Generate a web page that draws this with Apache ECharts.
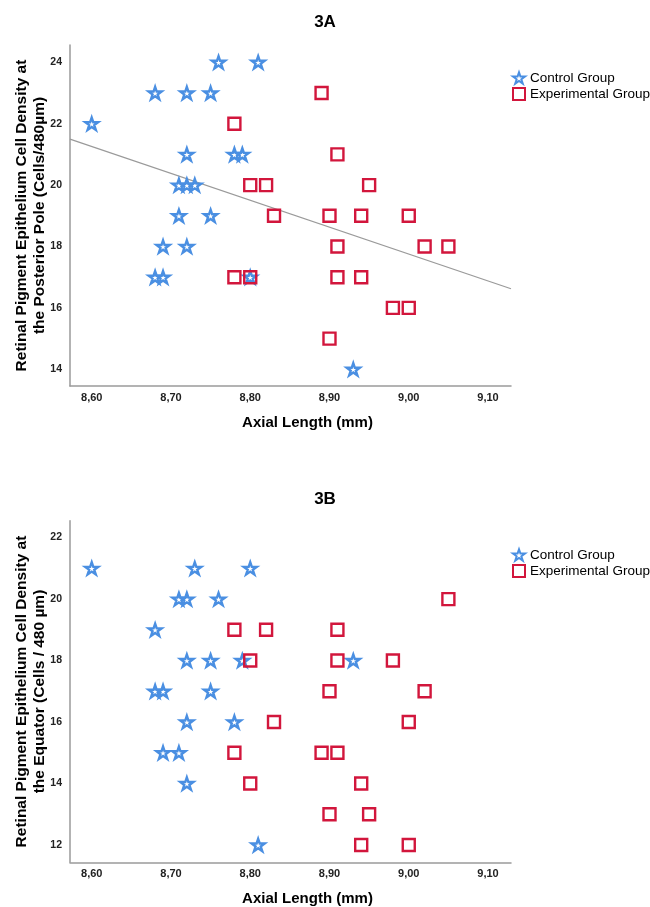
<!DOCTYPE html>
<html><head><meta charset="utf-8">
<script src="https://cdn.jsdelivr.net/npm/echarts@6/dist/echarts.min.js"></script>
<style>html,body{margin:0;padding:0;background:#fff}#c{width:650px;height:907px}</style>
</head><body><div id="c"></div>
<script>
// ---- data ----
const xTicks = [8.6, 8.7, 8.8, 8.9, 9.0, 9.1];
const yTicksA = [14, 16, 18, 20, 22, 24];
const yTicksB = [12, 14, 16, 18, 20, 22];
const groupNames = ['Control Group', 'Experimental Group'];

const controlA_x = [8.60,8.68,8.72,8.75,8.76,8.81,8.72,8.78,8.79,8.71,8.72,8.73,8.71,8.75,8.69,8.72,8.68,8.69,8.80,8.93];
const controlA_y = [22,23,23,23,24,24,21,21,21,20,20,20,19,19,18,18,17,17,17,14];
const expA_x = [8.89,8.78,8.91,8.80,8.82,8.95,8.83,8.90,8.94,9.00,8.91,9.02,9.05,8.78,8.80,8.91,8.94,8.98,9.00,8.90];
const expA_y = [23,22,21,20,20,20,19,19,19,19,18,18,18,17,17,17,17,16,16,15];
const fitA_x = [8.5726, 9.129];
const fitA_y = [21.50, 16.625];

const controlB_x = [8.60,8.73,8.80,8.71,8.72,8.76,8.68,8.72,8.75,8.79,8.93,8.68,8.69,8.75,8.72,8.78,8.69,8.71,8.72,8.81];
const controlB_y = [21,21,21,20,20,20,19,18,18,18,18,17,17,17,16,16,15,15,14,12];
const expB_x = [9.05,8.78,8.82,8.91,8.80,8.91,8.98,8.90,9.02,8.83,9.00,8.78,8.89,8.91,8.80,8.94,8.90,8.95,8.94,9.00];
const expB_y = [20,19,19,19,18,18,18,17,17,16,16,15,15,15,14,14,13,13,12,12];

// ---- build ----
const zip = (xs, ys) => xs.map((x, i) => [x, ys[i]]);
const FF = "'Liberation Sans', Arial, sans-serif";
const FFN = "'Liberation Sans Narrow', 'Liberation Sans', Arial, sans-serif";
const STAR = 'path://M50,0 L61.8,35.1 L98.9,35.1 L69.1,57.1 L80.9,92.7 L50,70.9 L19.1,92.7 L30.9,57.1 L1.1,35.1 L38.2,35.1 Z';
const BLUE = '#4A8FE2', RED = '#D2163C';

function xAx(gi) {
  return {
    type: 'value', gridIndex: gi, min: 8.5726, max: 9.129,
    name: 'Axial Length (mm)', nameLocation: 'middle', nameGap: 29,
    nameTextStyle: { fontSize: 15, fontWeight: 'bold', color: '#000', fontFamily: FF, padding: [0, 0, 0, 34] },
    axisLine: { lineStyle: { color: '#9a9a9a', width: 1.5 } },
    axisTick: { show: false }, splitLine: { show: false },
    axisLabel: { customValues: xTicks, formatter: v => v.toFixed(2).replace('.', ','),
      fontSize: 11, fontWeight: 'bold', color: '#222', fontFamily: FFN, margin: 6 }
  };
}
function yAx(gi, min, max, ticks, name) {
  return {
    type: 'value', gridIndex: gi, min: min, max: max,
    name: name, nameLocation: 'middle', nameRotate: 90, nameGap: 21, nameMoveOverlap: false,
    nameTextStyle: { fontSize: 15.5, fontWeight: 'bold', color: '#000', fontFamily: FF, lineHeight: 18 },
    axisLine: { show: true, lineStyle: { color: '#9a9a9a', width: 1.5 } },
    axisTick: { show: false }, splitLine: { show: false },
    axisLabel: { customValues: ticks, fontSize: 10.5, fontWeight: 'bold', color: '#222', fontFamily: FFN, margin: 8 }
  };
}
function starSeries(gi, data) {
  return { type: 'scatter', name: groupNames[0], xAxisIndex: gi, yAxisIndex: gi, data: data,
    symbol: STAR, symbolSize: 13, symbolKeepAspect: true,
    itemStyle: { color: 'rgba(255,255,255,0)', borderColor: BLUE, borderWidth: 2.4, opacity: 1 } };
}
function squareSeries(gi, data) {
  return { type: 'scatter', name: groupNames[1], xAxisIndex: gi, yAxisIndex: gi, data: data,
    symbol: 'rect', symbolSize: 12,
    itemStyle: { color: 'rgba(255,255,255,0)', borderColor: RED, borderWidth: 2.4, opacity: 1 } };
}
function legend(top) {
  return { top: top, left: 507, orient: 'vertical', itemWidth: 12, itemHeight: 12, itemGap: 2,
    selectedMode: false, data: groupNames,
    textStyle: { fontSize: 13.5, lineHeight: 12, color: '#000', fontFamily: FF } };
}

const option = {
  backgroundColor: '#fff',
  animation: false,
  title: [
    { text: '3A', left: 'center', top: 9, textStyle: { fontSize: 17, fontWeight: 'bold', color: '#000', fontFamily: FF } },
    { text: '3B', left: 'center', top: 486, textStyle: { fontSize: 17, fontWeight: 'bold', color: '#000', fontFamily: FF } }
  ],
  legend: [legend(66), legend(543)],
  grid: [
    { left: 70, right: 139, top: 45, bottom: 521, containLabel: false, outerBoundsMode: 'none' },
    { left: 70, right: 139, top: 520.7, bottom: 44.7, containLabel: false, outerBoundsMode: 'none' }
  ],
  xAxis: [xAx(0), xAx(1)],
  yAxis: [
    yAx(0, 13.456, 24.564, yTicksA, 'Retinal Pigment Epithelium Cell Density at\nthe Posterior Pole (Cells/480µm)'),
    yAx(1, 11.437, 22.55, yTicksB, 'Retinal Pigment Epithelium Cell Density at\nthe Equator (Cells / 480 µm)')
  ],
  series: [
    { type: 'line', name: 'Fit', xAxisIndex: 0, yAxisIndex: 0, data: zip(fitA_x, fitA_y),
      symbol: 'none', silent: true, lineStyle: { color: '#9a9a9a', width: 1.2 }, z: 1 },
    starSeries(0, zip(controlA_x, controlA_y)),
    squareSeries(0, zip(expA_x, expA_y)),
    starSeries(1, zip(controlB_x, controlB_y)),
    squareSeries(1, zip(expB_x, expB_y))
  ]
};
const chart = echarts.init(document.getElementById('c'), null, { renderer: 'canvas' });
chart.setOption(option);
</script>
</body></html>
